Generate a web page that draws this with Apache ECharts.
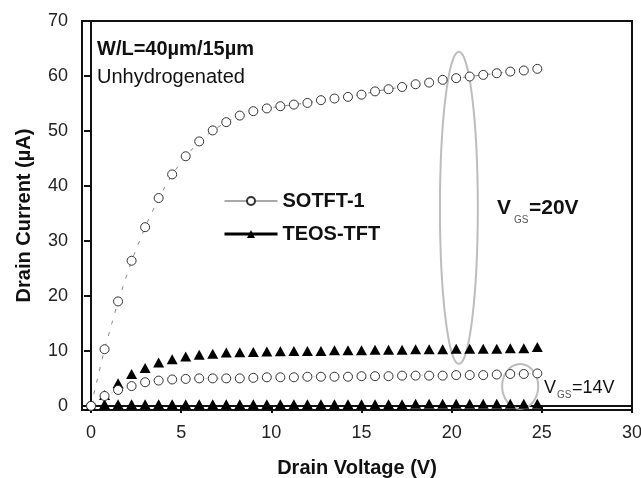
<!DOCTYPE html>
<html lang="en">
<head>
<meta charset="utf-8" />
<script src="https://cdn.jsdelivr.net/npm/echarts@6/dist/echarts.min.js"></script>
</head>
<body style="margin: 0; background: #fff">
<div id="container" style="width: 641px; height: 478px"></div>
<script>
// drain voltage sweep (V)
var voltage = [0, 0.75, 1.5, 2.25, 3, 3.75, 4.5, 5.25, 6, 6.75, 7.5, 8.25, 9, 9.75,
  10.5, 11.25, 12, 12.75, 13.5, 14.25, 15, 15.75, 16.5, 17.25, 18, 18.75, 19.5,
  20.25, 21, 21.75, 22.5, 23.25, 24, 24.75];

// drain current (uA)
var sotft20 = [0, 10.3, 19.0, 26.4, 32.5, 37.8, 42.1, 45.4, 48.1, 50.1, 51.6, 52.8,
  53.6, 54.1, 54.5, 54.8, 55.1, 55.6, 55.9, 56.2, 56.6, 57.2, 57.6, 58.0, 58.5, 58.8,
  59.3, 59.6, 59.9, 60.2, 60.5, 60.8, 61.0, 61.3];
var sotft14 = [0, 1.8, 2.9, 3.6, 4.3, 4.6, 4.8, 4.9, 5.0, 5.0, 5.0, 5.0, 5.1, 5.2,
  5.2, 5.2, 5.3, 5.3, 5.3, 5.3, 5.4, 5.4, 5.4, 5.5, 5.5, 5.5, 5.5, 5.6, 5.6, 5.6, 5.7,
  5.8, 5.8, 5.9];
var teos20 = [0, 2.0, 4.1, 5.8, 6.9, 7.9, 8.5, 9.0, 9.3, 9.5, 9.7, 9.75, 9.8, 9.9,
  9.95, 10.0, 10.0, 10.0, 10.1, 10.1, 10.1, 10.2, 10.2, 10.2, 10.3, 10.3, 10.3, 10.4,
  10.4, 10.4, 10.4, 10.5, 10.5, 10.7];
var teos14 = [0, 0.3, 0.3, 0.3, 0.3, 0.3, 0.3, 0.3, 0.3, 0.3, 0.3, 0.3, 0.3, 0.3,
  0.3, 0.3, 0.3, 0.3, 0.3, 0.3, 0.3, 0.3, 0.3, 0.3, 0.4, 0.4, 0.4, 0.4, 0.4, 0.4, 0.4,
  0.4, 0.4, 0.4];

var xTicks = [0, 5, 10, 15, 20, 25, 30];
var yTicks = [0, 10, 20, 30, 40, 50, 60, 70];

var FONT = "Liberation Sans, Arial, sans-serif";

function pairs(ys) {
  return voltage.map(function (v, i) { return [v, ys[i]]; });
}

var dom = document.getElementById("container");
var myChart = echarts.init(dom, null, { renderer: "canvas" });

// open circles: white fill with a thin dark ring
var circleStyle = { color: "#fff", borderColor: "#333", borderWidth: 1 };
var triStyle = { color: "#000" };

var option = {
  animation: false,
  backgroundColor: "#fff",
  grid: {
    left: 82, right: 9, top: 21, bottom: 68,
    show: true, borderColor: "#111", borderWidth: 2,
    containLabel: false, outerBoundsMode: "none"
  },
  legend: {
    orient: "vertical",
    left: 223, top: 191, padding: 0,
    itemWidth: 53, itemHeight: 10, itemGap: 13,
    textStyle: { fontFamily: FONT, fontSize: 20, fontWeight: "bold", color: "#111" },
    lineStyle: { type: "solid" },
    data: [
      { name: "SOTFT-1", lineStyle: { color: "#555", width: 1, type: "solid", opacity: 1 } },
      { name: "TEOS-TFT", lineStyle: { color: "#000", width: 3, type: "solid", opacity: 1 } }
    ]
  },
  xAxis: {
    type: "value", min: -0.5, max: 30,
    name: "Drain Voltage (V)", nameLocation: "middle", nameGap: 48,
    nameTextStyle: { fontFamily: FONT, fontSize: 20, fontWeight: "bold", color: "#111" },
    axisLine: { lineStyle: { color: "#111", width: 2 } },
    axisTick: { customValues: xTicks, length: 7, lineStyle: { color: "#111", width: 2 } },
    axisLabel: { customValues: xTicks, margin: 14, fontFamily: FONT, fontSize: 18, color: "#222" },
    splitLine: { show: false }
  },
  yAxis: {
    type: "value", min: -0.75, max: 70,
    name: "Drain Current (\u00b5A)", nameLocation: "middle", nameGap: 48,
    nameTextStyle: { fontFamily: FONT, fontSize: 20, fontWeight: "bold", color: "#111" },
    axisLine: { show: true, lineStyle: { color: "#111", width: 2 } },
    axisTick: { show: true, customValues: yTicks, length: 7, lineStyle: { color: "#111", width: 2 } },
    axisLabel: { customValues: yTicks, margin: 14, fontFamily: FONT, fontSize: 18, color: "#222" },
    splitLine: { show: false }
  },
  series: [
    {
      name: "TEOS-TFT", type: "line", data: pairs(teos20),
      symbol: "triangle", symbolSize: [11, 10], showAllSymbol: true, itemStyle: triStyle,
      lineStyle: { width: 0, opacity: 0 }
    },
    {
      name: "TEOS-TFT", type: "line", data: pairs(teos14),
      symbol: "triangle", symbolSize: [11, 10], showAllSymbol: true, itemStyle: triStyle,
      lineStyle: { width: 0, opacity: 0 }
    },
    {
      name: "SOTFT-1", type: "line", data: pairs(sotft20),
      symbol: "circle", symbolSize: 9, showAllSymbol: true, itemStyle: circleStyle,
      lineStyle: { color: "#888", width: 1, type: [4, 8] }
    },
    {
      name: "SOTFT-1", type: "line", data: pairs(sotft14),
      symbol: "circle", symbolSize: 9, showAllSymbol: true, itemStyle: circleStyle,
      lineStyle: { color: "#ccc", width: 1, type: [2, 10] }
    }
  ]
};

myChart.setOption(option);

// gray ellipses grouping the gate-voltage curves, anchored in data space
function ellipseAt(x0, x1, y0, y1) {
  var a = myChart.convertToPixel({ gridIndex: 0 }, [x0, y0]);
  var b = myChart.convertToPixel({ gridIndex: 0 }, [x1, y1]);
  return {
    type: "ellipse",
    shape: { cx: (a[0] + b[0]) / 2, cy: (a[1] + b[1]) / 2,
             rx: Math.abs(b[0] - a[0]) / 2, ry: Math.abs(b[1] - a[1]) / 2 },
    style: { fill: "none", stroke: "#bdbdbd", lineWidth: 2 },
    z: 1
  };
}

function label(x, y, text, size, bold, color) {
  return {
    type: "text", x: x, y: y, z: 10,
    style: {
      text: text, fontFamily: FONT, fontSize: size,
      fontWeight: bold ? "bold" : "normal", fill: color || "#111",
      verticalAlign: "middle"
    }
  };
}

myChart.setOption({
  graphic: [
    ellipseAt(19.35, 21.45, 7.6, 64.4),
    ellipseAt(22.8, 24.8, -0.5, 7.6),
    label(97, 49, "W/L=40\u00b5m/15\u00b5m", 20, true),
    label(97, 77, "Unhydrogenated", 20, false),
    label(497, 208, "V", 21, true),
    label(514, 220, "GS", 10, false, "#555"),
    label(529, 208, "=20V", 21, true),
    label(544, 388, "V", 18, false),
    label(557, 395, "GS", 10, false, "#555"),
    label(572, 388, "=14V", 18, false)
  ]
});
</script>
</body>
</html>
